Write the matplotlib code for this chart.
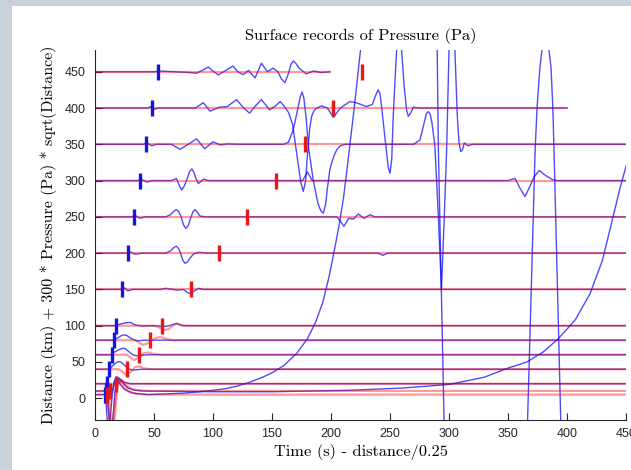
import matplotlib
matplotlib.use('Agg')
import matplotlib.pyplot as plt
from matplotlib.patches import Rectangle

# trace distances (km)
distances = [5, 10, 20, 40, 60, 80, 100, 150, 200, 250, 300, 350, 400, 450]
# arrival picks (reduced time, s)
blue_picks = [8.5, 9, 10, 12, 14, 16, 18, 23, 28, 33, 38, 43, 48, 53]
red_picks = [10.5, 13, 18, 27.5, 37.5, 47, 57, 81, 105, 129, 153, 178, 202, 226]

# blue records, (time, distance + scaled pressure)
blue_5 = [(0, 5), (8, 5), (9, 1), (10.4, -30), (11.5, -55), (12.7, -30), (14.5, 2), (16.1, 22),
          (17.5, 27), (19, 26), (21, 20), (25, 12), (32, 7), (45, 5), (60, 6), (75, 7), (89, 9),
          (100, 11), (110, 13), (120, 16.5), (131, 22), (142, 29), (150, 35), (160, 45),
          (171, 62), (180, 82), (187, 105), (193, 132), (198, 165), (203, 205), (207, 240),
          (210.5, 275), (215, 335), (220, 405), (225, 480), (232, 560), (258, 700),
          (286, 560), (290, 480), (291, 342), (293.5, 150), (295.8, -30), (298, -200),
          (330, -600), (364, -200), (366.6, -30), (373, 342), (374.6, 400), (377, 455),
          (379.5, 490), (382, 505), (384, 490), (386.5, 455), (388, 400), (389, 342),
          (394.7, -30), (398, -200), (450, -600)]
blue_10 = [(0, 10), (9, 10), (10.5, 2), (12, -30), (13.5, -50), (15, -30), (17, 10), (18.5, 24),
           (20, 27), (23, 22), (28, 14), (34, 11), (40, 10), (100, 9), (150, 9), (216, 11),
           (260, 14), (300, 19), (330, 29), (349, 41), (366, 50), (380, 64), (392.6, 82),
           (407, 108), (419.5, 144), (430, 190), (439, 250), (445, 290), (450.6, 323)]
blue_20 = [(0, 20), (9.5, 20), (11, 15), (13, 6), (15, 12), (17, 25), (18.5, 29), (21, 27),
           (25, 22), (30, 20), (450, 20)]
blue_40 = [(0, 40), (11, 40), (14, 43), (17, 48), (20, 50.5), (22, 50), (24, 47), (28, 41),
           (31, 39), (34, 39), (40, 40), (450, 40)]
blue_60 = [(0, 60), (13, 60), (17, 64), (21, 67.5), (24, 69), (26, 68), (28, 65), (32, 60),
           (35, 58.5), (38, 59), (45, 60), (450, 60)]
blue_80 = [(0, 80), (15, 80), (19, 83), (22, 86), (24.5, 87.5), (27, 86.5), (30, 83), (35, 79),
           (42, 80), (450, 80)]
blue_100 = [(0, 100), (17, 100), (21, 102), (26, 104), (30, 104.5), (34, 101), (40, 99.5),
            (50, 100), (60, 99), (65, 101), (69, 103), (74, 100), (450, 100)]
blue_150 = [(0, 150), (22, 150), (25, 152), (28, 148), (32, 150), (55, 150), (60, 151.5),
            (70, 149), (75, 150), (78, 146), (81, 144), (84, 148), (88, 151.5), (92, 150),
            (450, 150)]
blue_200 = [(0, 200), (27, 200), (30, 201.5), (34, 198.5), (40, 200), (60, 200), (64, 203),
            (67, 208), (69, 209.5), (71, 206), (72.5, 200), (74.5, 190), (76.3, 186),
            (78.5, 188), (80, 192), (83.5, 199), (88, 201), (95, 200), (240, 200), (244, 197),
            (248, 200), (450, 200)]
blue_250 = [(0, 250), (31, 250), (34, 252), (38, 248), (42, 250), (60, 250), (64, 253),
            (67, 258), (69, 260), (71, 257), (73, 250), (75, 239), (77, 234), (79, 238),
            (81, 248), (83, 257), (84.7, 260), (87, 256), (89, 251), (94, 250), (205, 250),
            (208, 244), (211, 237), (215, 248), (219, 247), (223, 254), (228, 248), (233, 253),
            (237, 250), (450, 250)]
blue_300 = [(0, 300), (36, 300), (39, 302), (44, 298), (48, 300), (65, 300), (69, 303),
            (71.5, 293), (73.4, 287), (75.5, 292), (78, 302), (80, 312), (82, 316), (84, 311),
            (85.5, 303), (87.6, 296), (90, 299), (92, 302), (96, 300), (176, 300), (180, 312),
            (184, 300), (350, 300), (356, 303), (360, 290), (364.4, 278), (368, 290),
            (372, 305), (376.5, 314), (381, 308), (388, 301), (392, 300), (450, 300)]
blue_350 = [(0, 350), (41, 350), (44, 352), (48, 348), (52, 350), (65, 350), (72, 343),
            (79, 350), (86, 357.5), (93, 344), (100, 353.5), (106, 349), (112, 350.5),
            (120, 350), (160, 350), (164, 353), (168, 370), (172, 400), (174, 416),
            (175.5, 422), (177, 414), (179, 385), (181, 345), (185, 300), (189, 268),
            (191.5, 258), (193.5, 255), (195.5, 268), (197, 290), (199, 315), (200.5, 324),
            (202.5, 334), (205, 343), (208, 348), (212, 350), (270, 350), (275.4, 356),
            (279, 380), (281, 393), (282.5, 395), (284, 392), (285.5, 380), (288, 349),
            (291, 250), (293.6, 149), (296, 250), (298, 342), (300, 480), (302.5, 505),
            (305, 480), (307, 390), (308.5, 352), (310, 340), (311.5, 343), (313, 352),
            (316, 348), (320, 350), (450, 350)]
blue_400 = [(0, 400), (45, 400), (47, 402), (50, 398), (53, 400), (85, 400), (91.8, 407.4),
            (97.5, 395.6), (105, 401), (112, 402), (120, 411.6), (126, 400), (131, 393),
            (136, 403), (141, 411.6), (148, 397.5), (153, 403), (157, 409), (161, 401),
            (164, 394), (167.5, 377), (172, 325), (174.5, 297), (176.5, 285), (178.5, 300),
            (180, 335), (182, 372), (183.6, 388.5), (185.5, 396), (187, 399), (192, 403),
            (197, 400), (202, 387), (208, 400), (216, 409), (222, 407), (230, 402), (235, 405),
            (238, 418), (240, 425), (241.5, 420), (243, 400), (246, 355), (248.5, 318),
            (250, 310), (251.5, 330), (252.5, 380), (254, 430), (255.6, 480), (257.7, 495),
            (259.8, 480), (262, 430), (264, 398), (265.5, 388.5), (267.5, 393), (269.7, 401),
            (275, 400), (400, 400)]
blue_450 = [(0, 450), (50, 450), (55, 451), (80, 449), (86, 448), (91, 452), (96, 456.5),
            (100, 451), (104.5, 445.7), (110, 451), (117, 457.8), (121, 450), (125.7, 446),
            (130, 452), (135.6, 441.5), (138.5, 452), (141, 462), (143.5, 456), (146, 450),
            (151, 455), (155, 450), (158, 440), (161, 435), (164, 448), (166, 460), (168, 465),
            (170.5, 461), (173, 455), (179, 447), (185, 451), (192, 449), (199, 450)]

# red records
red_5 = [(0, 5), (9, 5), (10.5, -3), (12.5, -30), (14, -45), (15.5, -30), (18, 14), (20, 23),
         (23, 18), (28, 10), (35, 6), (45, 5), (450, 5)]
red_10 = [(0, 10), (10, 10), (12, 1), (13.5, -30), (15, -45), (16.5, -30), (19, 15), (22, 25),
          (26, 18), (32, 12), (45, 10), (450, 10)]
red_20 = [(0, 20), (14, 20), (16, 17), (18, 18), (20, 24), (23, 23), (28, 20), (450, 20)]
red_40 = [(0, 40), (20, 40), (23, 37), (26.5, 32), (30, 36), (34, 43), (37, 44), (42, 41),
          (48, 40), (450, 40)]
red_60 = [(0, 60), (27, 60), (30, 56), (33, 52.5), (37, 56), (41, 62), (45, 63), (50, 61),
          (56, 60), (450, 60)]
red_80 = [(0, 80), (35, 80), (38, 76), (41, 73.5), (45, 76), (50, 82), (55, 84.5), (60, 82),
          (66, 80), (450, 80)]
red_100 = [(0, 100), (50, 100), (54, 98), (58, 94), (62, 95), (66, 100), (69, 103), (73, 101),
           (78, 100), (450, 100)]
red_150 = [(0, 150), (450, 150)]
red_200 = [(0, 200), (450, 200)]
red_250 = [(0, 250), (450, 250)]
red_300 = [(0, 300), (450, 300)]
red_350 = [(0, 350), (450, 350)]
red_400 = [(0, 400), (400, 400)]
red_450 = [(0, 450), (199, 450)]

blue_traces = [blue_5, blue_10, blue_20, blue_40, blue_60, blue_80, blue_100, blue_150,
               blue_200, blue_250, blue_300, blue_350, blue_400, blue_450]
red_traces = [red_5, red_10, red_20, red_40, red_60, red_80, red_100, red_150,
              red_200, red_250, red_300, red_350, red_400, red_450]

fig = plt.figure(figsize=(6.31, 4.70), dpi=100)
fig.patch.set_facecolor('#c8d2d9')
# white canvas inside the grey window frame
fig.patches.append(Rectangle((12 / 631, 0), 1, (470 - 6) / 470, transform=fig.transFigure,
                             facecolor='white', edgecolor='none', zorder=-10))

ax = fig.add_axes([95 / 631, 50 / 470, 531 / 631, 370 / 470])
ax.set_facecolor('white')

for blue in blue_traces:
    ax.plot([p[0] for p in blue], [p[1] for p in blue], color='#0000ff', alpha=0.7, lw=1.0,
            zorder=2)
for red in red_traces:
    ax.plot([p[0] for p in red], [p[1] for p in red], color='#ff0000', alpha=0.4, lw=1.6,
            zorder=3)

ax.vlines(blue_picks, [d - 11 for d in distances], [d + 11 for d in distances],
          color='#1515e0', lw=2.4, zorder=5)
ax.vlines(red_picks, [d - 11 for d in distances], [d + 11 for d in distances],
          color='#e81818', lw=2.4, zorder=5)

ax.set_xlim(0, 450)
ax.set_ylim(-30, 480)
ax.set_xticks(range(0, 451, 50))
ax.set_yticks(range(0, 451, 50))
ax.spines['top'].set_visible(False)
ax.spines['right'].set_visible(False)
for s in ['left', 'bottom']:
    ax.spines[s].set_color('#262626')
    ax.spines[s].set_linewidth(0.8)
ax.tick_params(direction='in', length=5, width=0.8, color='#262626', labelcolor='#262626',
               labelsize=9)
ax.tick_params(axis='y', pad=7)
ax.tick_params(axis='x', pad=6)
for lab in ax.get_xticklabels() + ax.get_yticklabels():
    lab.set_fontfamily('Liberation Sans')

serif = ['cmr10', 'DejaVu Serif']
ax.set_title('Surface records of Pressure (Pa)', family=serif, fontsize=11.8, pad=7)
ax.set_xlabel('Time (s) - distance/0.25', family=serif, fontsize=11.8, labelpad=3)
ax.set_ylabel('Distance (km) + 300 * Pressure (Pa) * sqrt(Distance)', family=serif,
              fontsize=11.5, labelpad=5)

fig.savefig('out.png', dpi=100)
